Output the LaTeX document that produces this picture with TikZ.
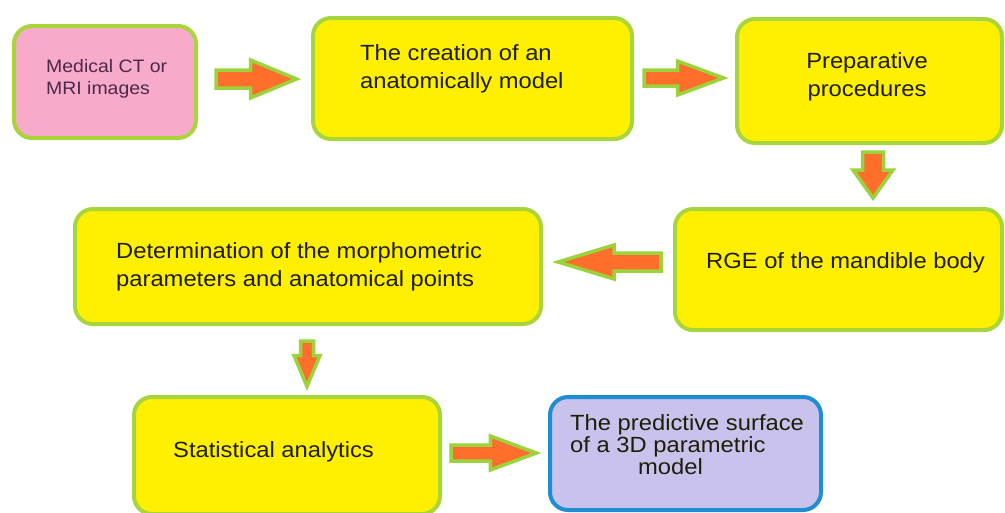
\documentclass[tikz,border=0pt]{standalone}
\usepackage{fontspec}
\setmainfont{Liberation Sans}[FakeStretch=1.08]
\usetikzlibrary{calc}
\definecolor{boxyellow}{HTML}{FFEF00}
\definecolor{boxgreen}{HTML}{A8D43C}
\definecolor{boxpink}{HTML}{F7AACA}
\definecolor{boxlav}{HTML}{C8C2EC}
\definecolor{boxblue}{HTML}{1E8DD2}
\definecolor{arrorange}{HTML}{FF6E2A}
\definecolor{arrgreen}{HTML}{9CD23C}
\definecolor{txtdark}{HTML}{1E1E08}
\definecolor{txtpurple}{HTML}{4A2A48}
\tikzset{
  box/.style={draw=boxgreen, line width=4pt, rounded corners=18pt, fill=boxyellow, inner sep=0pt},
  txt/.style={inner sep=0pt, text=txtdark, font=\fontsize{22pt}{28pt}\selectfont},
  smalltxt/.style={inner sep=0pt, text=txtpurple, font=\fontsize{18pt}{22pt}\selectfont},
  barrow/.style={fill=arrorange, draw=arrgreen, line width=3.5pt, line join=miter}
}
\newcommand\blockarrow[5]{%
  \path let \p1=(#1), \p2=(#2),
        \n1={atan2(\y2-\y1,\x2-\x1)},
        \n2={veclen(\x2-\x1,\y2-\y1)} in
        \pgfextra{\xdef\baang{\n1}\xdef\balen{\n2}\xdef\bax{\x1}\xdef\bay{\y1}};
  \begin{scope}[shift={(\bax,\bay)}, rotate=\baang]
    \draw[barrow] (0,#3) -- ({\balen-#5},#3) -- ({\balen-#5},#4) -- (\balen,0)
      -- ({\balen-#5},-#4) -- ({\balen-#5},-#3) -- (0,-#3) -- cycle;
  \end{scope}}
\begin{document}
\begin{tikzpicture}[x=1pt,y=-1pt]
\useasboundingbox[fill=white] (0,0) rectangle (1005,512);
% boxes
\node[box, fill=boxpink, minimum width=182pt, minimum height=112pt] (n1) at (105,82) {};
\node[box, minimum width=319pt, minimum height=121pt] (n2) at (472.5,78.5) {};
\node[box, minimum width=265pt, minimum height=124pt] (n3) at (869.5,81) {};
\node[box, minimum width=327pt, minimum height=121pt] (n4) at (838.5,269.5) {};
\node[box, minimum width=466pt, minimum height=115pt] (n5) at (308,266.5) {};
\node[box, minimum width=306pt, minimum height=117pt] (n6) at (287,455.5) {};
\node[box, draw=boxblue, fill=boxlav, minimum width=271pt, minimum height=113pt] (n7) at (685.5,453.5) {};
% texts
\node[smalltxt, anchor=west, align=left] (t1) at ($(n1.west)+(34,-3)$) {Medical CT or\\MRI images};
\node[txt, anchor=west, align=left] (t2) at ($(n2.west)+(49,-9.5)$) {The creation of an\\anatomically model};
\node[txt, align=center] (t3) at ($(n3.center)+(-2.5,-4)$) {Preparative\\procedures};
\node[txt, anchor=west] (t4) at ($(n4.west)+(33,-6.5)$) {RGE of the mandible body};
\node[txt, anchor=west, align=left] (t5) at ($(n5.west)+(43,0)$) {Determination of the morphometric\\parameters and anatomical points};
\node[txt, anchor=west] (t6) at ($(n6.west)+(41,-3.5)$) {Statistical analytics};
\node[txt, anchor=west, align=left, font=\fontsize{22pt}{22pt}\selectfont] (t7) at ($(n7.west)+(22,-8.5)$) {The predictive surface\\of a 3D parametric\\\hspace*{68pt}model};
% connector end points
\coordinate (a1s) at ($(n1.east)+(18,-3)$);
\coordinate (a1e) at ($(n2.west)+(-14.5,0.5)$);
\coordinate (a2s) at ($(n2.east)+(10,-0.5)$);
\coordinate (a2e) at ($(n3.west)+(-11.5,-3)$);
\coordinate (a3s) at ($(n3.south)+(3.5,7)$);
\coordinate (a3e) at ($(n4.north)+(34.5,-9)$);
\coordinate (a4s) at ($(n4.west)+(-12,-7.5)$);
\coordinate (a4e) at ($(n5.east)+(15,-4.5)$);
\coordinate (a5s) at ($(n5.south)+(-1,15)$);
\coordinate (a5e) at ($(n6.north)+(20,-8.5)$);
\coordinate (a6s) at ($(n6.east)+(9,-2.5)$);
\coordinate (a6e) at ($(n7.west)+(-11.7,-0.5)$);
% block arrows
\blockarrow{a1s}{a1e}{9}{19}{46}
\blockarrow{a2s}{a2e}{8}{17}{46}
\blockarrow{a3s}{a3e}{10.5}{20}{28}
\blockarrow{a4s}{a4e}{9}{17}{56}
\blockarrow{a5s}{a5e}{6.5}{13}{31}
\blockarrow{a6s}{a6e}{8}{17}{46}
\end{tikzpicture}
\end{document}
